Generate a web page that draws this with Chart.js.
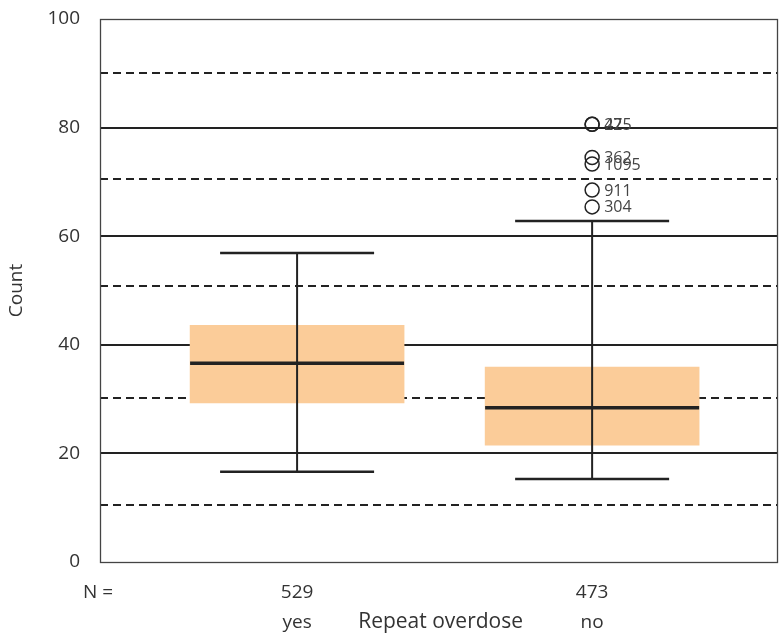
<!DOCTYPE html>
<html>
<head>
<meta charset="utf-8">
<script src="https://cdn.jsdelivr.net/npm/chart.js@4/dist/chart.umd.min.js"></script>
<style>
  html, body { margin: 0; padding: 0; background: #fff; overflow: hidden; }
  #wrap { width: 779px; height: 635px; position: relative; }
  canvas { display: block; }
</style>
</head>
<body>
<div id="wrap"><canvas id="c" width="779" height="635"></canvas></div>
<script>
// Groups and their sample sizes
const categories = ['yes', 'no'];
const groupN = ['529', '473'];
const xPos = [1, 2];

// Box-plot statistics per group
const whiskerLow = [16.6, 15.3];
const q1 = [29.3, 21.5];
const median = [36.6, 28.4];
const q3 = [43.6, 35.9];
const whiskerHigh = [56.9, 62.8];

// Outlying cases (group "no")
const outlierGroup = [2, 2, 2, 2, 2, 2];
const outlierValues = [80.6, 80.6, 74.5, 73.3, 68.5, 65.4];
const outlierIds = ['275', '42', '362', '1095', '911', '304'];

// Axis ticks and reference lines
const yTicks = [0, 20, 40, 60, 80, 100];
const majorLines = [20, 40, 60, 80];
const minorLines = [10.5, 30.2, 50.8, 70.5, 90];

const INK = '#222';
const BOX = '#FBCC99';
const TEXT = '#333';

function noEdgePadding(s) {
  s.paddingTop = 0; s.paddingBottom = 0; s.paddingLeft = 0; s.paddingRight = 0;
}

const decor = {
  id: 'decor',
  beforeDatasetsDraw(chart) {
    const { ctx, chartArea: a, scales: { y } } = chart;
    ctx.save();
    ctx.strokeStyle = INK;
    ctx.lineWidth = 2;
    majorLines.forEach(v => {
      const py = Math.round(y.getPixelForValue(v));
      ctx.beginPath(); ctx.moveTo(a.left, py); ctx.lineTo(a.right, py); ctx.stroke();
    });
    ctx.setLineDash([8, 5]);
    minorLines.forEach(v => {
      const py = Math.round(y.getPixelForValue(v));
      ctx.beginPath(); ctx.moveTo(a.left, py); ctx.lineTo(a.right, py); ctx.stroke();
    });
    ctx.restore();
  },
  afterDatasetsDraw(chart) {
    const { ctx, chartArea: a, scales: { x, y } } = chart;
    ctx.save();
    ctx.strokeStyle = INK;
    categories.forEach((c, i) => {
      const px = x.getPixelForValue(xPos[i]);
      const capHalf = 77, boxHalf = 107;
      // whisker stem
      ctx.lineWidth = 2;
      ctx.beginPath();
      ctx.moveTo(px, y.getPixelForValue(whiskerLow[i]));
      ctx.lineTo(px, y.getPixelForValue(whiskerHigh[i]));
      ctx.stroke();
      // caps
      ctx.lineWidth = 2.5;
      [whiskerLow[i], whiskerHigh[i]].forEach(v => {
        const py = y.getPixelForValue(v);
        ctx.beginPath(); ctx.moveTo(px - capHalf, py); ctx.lineTo(px + capHalf, py); ctx.stroke();
      });
      // median
      ctx.lineWidth = 3.5;
      const pm = y.getPixelForValue(median[i]);
      ctx.beginPath(); ctx.moveTo(px - boxHalf, pm); ctx.lineTo(px + boxHalf, pm); ctx.stroke();
    });
    // outlier case labels
    ctx.fillStyle = '#444';
    ctx.font = '16px "Open Sans", sans-serif';
    ctx.textBaseline = 'middle';
    ctx.textAlign = 'left';
    outlierIds.forEach((id, i) => {
      ctx.fillText(id, x.getPixelForValue(outlierGroup[i]) + 12, y.getPixelForValue(outlierValues[i]) + 1);
    });
    // plot frame
    ctx.strokeStyle = '#444';
    ctx.lineWidth = 1.3;
    ctx.strokeRect(a.left + 0.5, a.top + 0.5, a.right - a.left - 1, a.bottom - a.top);
    // group counts and names under the plot
    ctx.fillStyle = TEXT;
    ctx.textAlign = 'center';
    ctx.textBaseline = 'alphabetic';
    ctx.font = '19px "Open Sans", sans-serif';
    ctx.fillText('N =', 98, 598);
    categories.forEach((c, i) => {
      const px = x.getPixelForValue(xPos[i]);
      ctx.fillText(groupN[i], px, 598);
      ctx.fillText(c, px, 628);
    });
    ctx.font = '21px "Open Sans", sans-serif';
    ctx.fillText('Repeat overdose', x.getPixelForValue((xPos[0] + xPos[1]) / 2) - 4, 628);
    ctx.restore();
  }
};

new Chart(document.getElementById('c'), {
  data: {
    datasets: [
      {
        type: 'bar',
        data: categories.map((c, i) => ({ x: xPos[i], y: [q1[i], q3[i]] })),
        backgroundColor: BOX,
        borderWidth: 0,
        barThickness: 214,
        grouped: false,
        order: 2
      },
      {
        type: 'scatter',
        data: outlierValues.map((v, i) => ({ x: outlierGroup[i], y: v })),
        pointStyle: 'circle',
        pointRadius: 7,
        pointHoverRadius: 7,
        borderColor: INK,
        borderWidth: 1.5,
        backgroundColor: 'rgba(0,0,0,0)',
        order: 1
      }
    ]
  },
  options: {
    responsive: false,
    animation: false,
    events: [],
    layout: { autoPadding: false, padding: { top: 19, right: 1, bottom: 73, left: 0 } },
    plugins: { legend: { display: false }, tooltip: { enabled: false } },
    scales: {
      x: {
        type: 'linear',
        min: 0.332,
        max: 2.63,
        offset: false,
        display: false,
        afterFit: noEdgePadding
      },
      y: {
        min: 0,
        max: 100,
        afterBuildTicks(s) { s.ticks = yTicks.map(v => ({ value: v })); },
        afterFit(s) { s.width = 100; noEdgePadding(s); },
        grid: { display: false },
        border: { display: false },
        ticks: {
          color: TEXT,
          padding: 12,
          font: { family: '"Open Sans", sans-serif', size: 19 }
        },
        title: {
          display: true,
          text: 'Count',
          color: TEXT,
          padding: 5,
          font: { family: '"Open Sans", sans-serif', size: 19 }
        }
      }
    }
  },
  plugins: [decor]
});
</script>
</body>
</html>
